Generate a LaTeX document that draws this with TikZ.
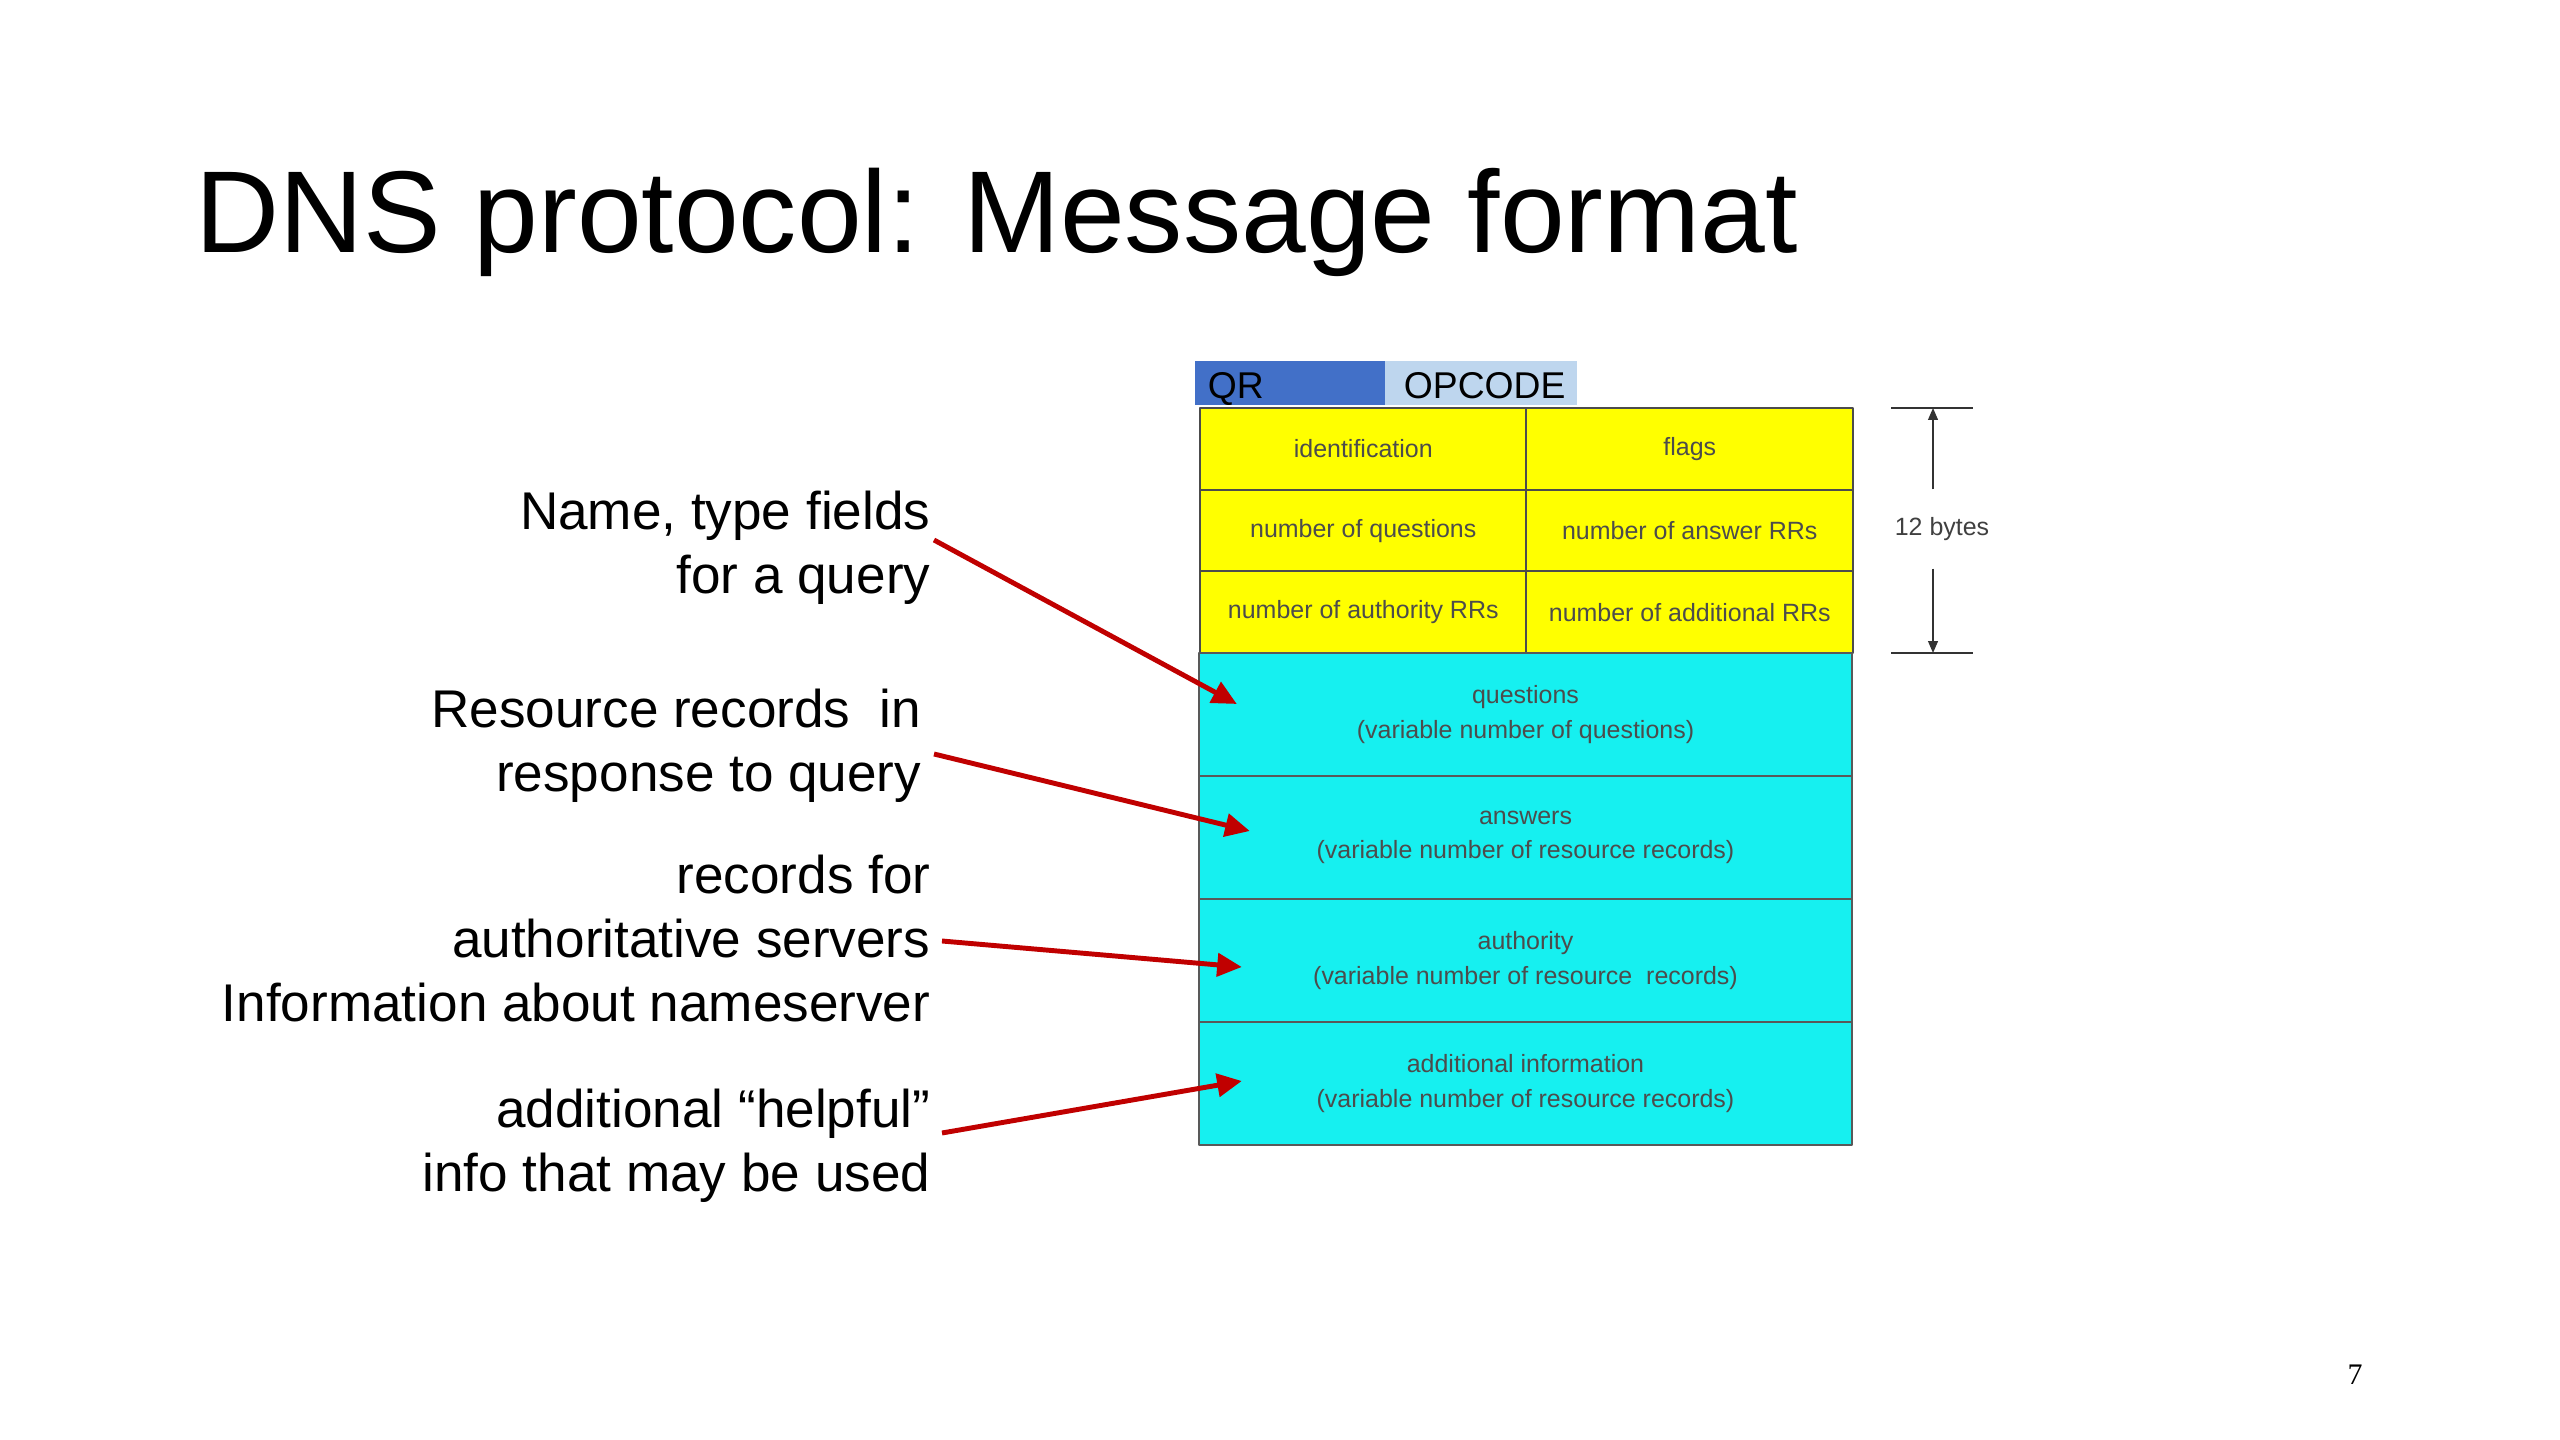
\documentclass[tikz,border=0pt]{standalone}
\usepackage{fontspec}
\setmainfont{Liberation Sans}
\newfontfamily\pagenumfont{Liberation Serif}
\usetikzlibrary{arrows.meta,calc}
\definecolor{hdrYellow}{RGB}{255,255,0}
\definecolor{secCyan}{RGB}{22,240,240}
\definecolor{qrBlue}{RGB}{66,112,200}
\definecolor{opBlue}{RGB}{190,214,238}
\definecolor{arrowRed}{RGB}{192,0,0}
\begin{document}
\begin{tikzpicture}[x=0.01cm,y=-0.01cm,line join=round,
		hdr/.style={draw=black!70,fill=hdrYellow,line width=0.6pt,inner sep=0pt,outer sep=0pt,
			minimum width=3.265cm,minimum height=0.8167cm,text=black!70,font=\fontsize{7.1}{9.7}\selectfont},
		sec/.style={draw=black!65,fill=secCyan,line width=0.6pt,inner sep=0pt,outer sep=0pt,
			minimum width=6.53cm,minimum height=1.23cm,align=center,text=black!70,font=\fontsize{7.1}{9.7}\selectfont},
		bitfield/.style={inner ysep=0pt,outer sep=0pt,minimum height=0.44cm,align=left,
			text height=9pt,text depth=0pt,font=\fontsize{10.6}{12}\selectfont},
		note/.style={anchor=east,align=right,inner sep=0pt,font=\fontsize{15.1}{18.2}\selectfont},
		callout/.style={arrowRed,line width=1.4pt,-{Triangle[length=7pt,width=6.5pt]}},
		dimarrow/.style={black!80,line width=0.45pt,-{Triangle[length=3.4pt,width=2.8pt]}}]
	\useasboundingbox (0,0) rectangle (2560,1440);
	% title and page number
	\node[anchor=base west,inner sep=0pt,font=\fontsize{33.1}{40}\selectfont] (title) at (195,253) {DNS protocol: Message format};
	\node[inner sep=0pt,font=\pagenumfont\fontsize{8.5}{10}\selectfont] (pageno) at (2355,1375) {7};
	% QR / OPCODE bits
	\node[bitfield,fill=qrBlue,inner xsep=0.13cm,text width=1.64cm] (qr) at (1290,383) {QR};
	\node[bitfield,fill=opBlue,inner xsep=0.19cm,text width=1.54cm] (opcode) at (1481,383) {OPCODE};
	% header, 12 bytes
	\node[hdr] (cellId) at (1363.25,449) {identification};
	\node[hdr] (cellFlags) at (1689.75,449) {flags};
	\node[hdr] (cellNQ) at (1363.25,530.7) {number of questions};
	\node[hdr] (cellNAns) at (1689.75,530.7) {number of answer RRs};
	\node[hdr] (cellNAuth) at (1363.25,612.3) {number of authority RRs};
	\node[hdr] (cellNAdd) at (1689.75,612.3) {number of additional RRs};
	% variable sections
	\node[sec] (cellQ) at (1525.5,714.5) {questions\\(variable number of questions)};
	\node[sec] (cellAns) at (1525.5,837.5) {answers\\(variable number of resource records)};
	\node[sec] (cellAuth) at (1525.5,960.5) {authority\\(variable number of resource~ records)};
	\node[sec] (cellAdd) at (1525.5,1083.5) {additional information\\(variable number of resource records)};
	% size of the header
	\coordinate (bTop) at (1933,408);
	\coordinate (bBot) at (1933,653);
	\draw[black!80,line width=0.45pt] ($(bTop)+(-42,0)$) -- ($(bTop)+(40,0)$);
	\draw[black!80,line width=0.45pt] ($(bBot)+(-42,0)$) -- ($(bBot)+(40,0)$);
	\node[inner sep=0pt,minimum height=0.78cm,text=black!75,font=\fontsize{7.1}{9}\selectfont] (bytes) at (1942,529) {12 bytes};
	\draw[dimarrow] (bytes.north -| bTop) -- (bTop);
	\draw[dimarrow] (bytes.south -| bTop) -- (bBot);
	% explanations
	\node[note] (lblQry) at (931,547.6) {Name, type fields\\for a query};
	\node[note] (lblRes) at (922,746.1) {Resource records~ in\\response to query};
	\node[note] (lblAuth) at (931,938.1) {records for\\authoritative servers\\Information about nameserver};
	\node[note] (lblAdd) at (931,1146.1) {additional “helpful”\\info that may be used};
	\draw[callout] ($(lblQry.east)+(3,-7.6)$) -- ($(cellQ.west)+(38,-10.5)$);
	\draw[callout] ($(lblRes.east)+(12,7.9)$) -- ($(cellAns.west)+(51,-6.5)$);
	\draw[callout] ($(lblAuth.east)+(11,2.9)$) -- ($(cellAuth.west)+(43,6.5)$);
	\draw[callout] ($(lblAdd.east)+(11,-13.1)$) -- ($(cellAdd.west)+(43,-2.5)$);
\end{tikzpicture}
\end{document}
